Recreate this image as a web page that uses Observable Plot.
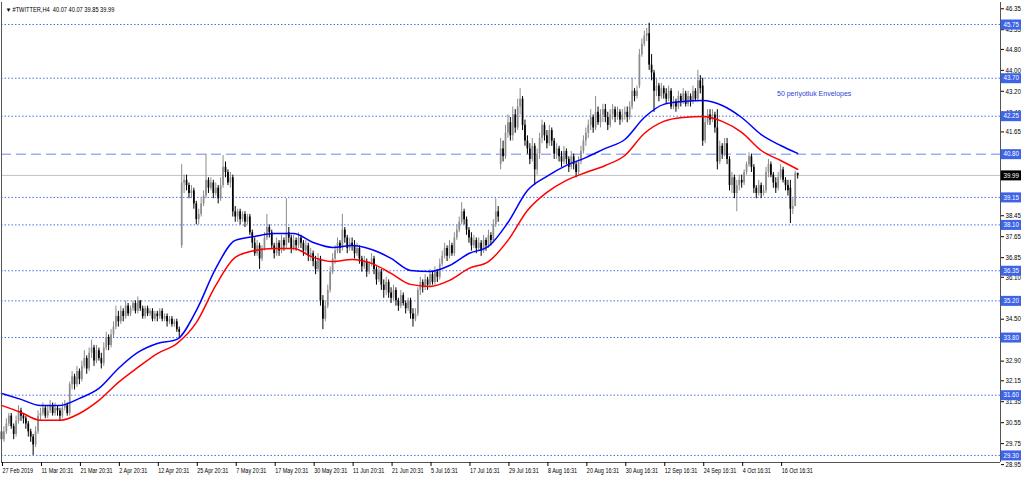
<!DOCTYPE html>
<html><head><meta charset="utf-8">
<script src="https://cdn.jsdelivr.net/npm/d3@7"></script>
<script src="https://cdn.jsdelivr.net/npm/@observablehq/plot@0.6"></script>
<style>body{margin:0;background:#fff;} svg{display:block}</style>
</head><body><div id="chart"></div>
<script>
// ---- Candles (H4 bars, index 0 = 27 Feb 2019) ----
const opens = [
30.2,29.9,30.2,30.5,30.8,30.4,30.1,30.6,31.0,30.8,30.7,30.5,30.2,30.0,29.7,30.2,
30.8,30.9,31.1,30.8,31.0,31.2,30.9,31.1,31.0,30.8,31.1,31.2,30.9,32.0,32.3,32.0,
32.5,32.2,32.7,33.0,32.6,33.2,33.4,32.9,33.3,33.0,32.8,33.4,33.8,33.5,33.9,34.2,
34.6,34.4,34.8,34.6,35.0,34.7,34.9,35.1,34.8,35.2,34.9,34.6,34.9,34.7,34.8,34.5,
34.7,34.6,34.8,34.5,34.6,34.4,34.5,34.3,34.4,34.1,37.3,39.7,39.8,39.6,39.3,39.4,
38.9,38.3,38.5,38.9,39.2,39.8,39.5,39.7,39.3,39.5,39.1,39.6,40.3,40.1,39.7,39.9,
38.6,38.4,38.6,38.3,38.5,38.2,38.4,37.8,37.4,37.0,37.3,36.8,37.2,37.6,38.0,37.8,
37.3,37.0,37.4,37.1,37.5,37.3,37.8,37.6,37.2,37.5,37.3,37.6,37.4,37.1,37.3,36.9,
37.0,36.7,36.4,36.8,35.2,34.5,35.0,35.6,36.3,36.8,37.1,37.4,37.2,37.9,37.6,37.2,
37.4,37.3,37.0,37.2,36.8,36.5,36.7,36.3,36.6,36.8,36.4,36.0,36.3,35.8,35.6,35.9,
35.5,35.3,35.6,35.2,35.0,35.4,35.1,34.9,35.2,34.7,34.5,34.7,35.6,35.9,35.7,36.0,
35.8,36.2,35.9,36.3,36.1,36.6,36.9,37.2,36.9,37.3,37.0,37.6,37.9,38.2,38.6,38.3,
37.9,37.6,37.3,37.5,37.2,37.4,37.1,37.5,37.3,37.7,37.5,38.1,38.6,40.4,41.0,40.7,
41.6,42.0,41.5,42.3,41.8,42.6,42.9,41.9,41.3,41.0,40.6,41.1,40.2,40.8,41.4,41.9,
41.5,41.2,41.7,41.3,40.8,41.0,40.7,40.5,40.9,40.6,40.3,40.7,40.4,40.1,40.5,40.9,
41.3,41.6,41.9,42.2,41.8,42.4,42.0,42.3,42.5,42.2,41.9,42.3,42.5,42.2,42.4,42.1,
42.3,42.4,42.2,42.6,43.2,43.0,43.4,44.6,45.0,45.3,45.4,44.2,43.9,43.2,43.4,43.0,
43.3,43.1,42.9,43.2,42.6,42.8,42.6,43.0,42.8,43.1,42.7,43.0,42.8,43.2,42.9,43.6,
43.4,41.3,42.0,42.3,42.1,42.3,41.8,40.5,41.1,40.8,41.2,40.6,39.6,39.9,39.3,39.6,
39.8,39.7,40.1,40.4,40.7,40.3,39.5,39.3,39.6,39.3,39.4,40.1,40.4,40.0,39.7,39.5,
39.9,40.2,39.8,39.6,39.5,38.7,38.8,40.07];
const highs = [
30.3,30.4,30.7,30.9,30.9,30.5,30.8,31.2,31.1,30.9,30.8,30.6,30.3,30.1,30.4,31.0,
31.1,31.3,31.2,31.2,31.4,31.3,31.3,31.2,31.1,31.3,31.4,31.3,32.1,32.5,32.4,32.7,
32.6,32.9,33.3,33.1,33.4,33.7,33.5,33.5,33.4,33.2,33.6,34.0,33.9,34.1,34.4,35.0,
34.8,35.0,34.9,35.2,35.1,35.0,35.2,35.2,35.35,35.2,35.0,35.0,35.0,34.9,34.9,34.8,
34.8,34.9,34.9,34.7,34.7,34.6,34.6,34.5,34.5,34.2,40.4,40.0,40.0,39.7,39.6,39.5,
39.0,38.7,39.1,39.4,40.8,39.9,39.9,39.8,39.7,39.6,39.9,40.75,40.5,40.2,40.1,40.0,
38.8,38.7,38.7,38.6,38.6,38.5,38.5,37.9,37.6,37.5,37.4,37.3,37.8,38.5,38.1,37.9,
37.4,37.6,37.5,37.7,37.6,39.1,38.0,37.7,37.7,37.6,37.8,37.7,37.5,37.5,37.4,37.2,
37.1,36.9,37.0,36.9,35.4,35.2,35.8,36.5,37.0,37.3,37.6,37.5,38.5,38.0,37.7,37.6,
37.6,37.5,37.4,37.3,36.9,36.9,36.8,36.7,37.0,36.9,36.5,36.5,36.4,36.0,36.1,36.0,
35.7,35.8,35.7,35.3,35.6,35.5,35.2,35.3,35.3,34.9,34.9,35.7,36.1,36.0,36.2,36.1,
36.4,36.3,36.5,36.4,36.8,37.1,37.4,37.3,37.5,37.4,37.8,38.1,38.4,38.95,38.7,38.4,
38.0,37.8,37.7,37.6,37.6,37.5,37.7,37.6,37.9,37.8,38.3,39.1,38.8,41.4,41.3,41.9,
42.3,42.2,42.6,42.5,42.9,43.3,43.0,42.1,41.5,41.2,41.4,41.2,41.0,41.6,42.1,42.0,
41.7,41.9,41.8,41.4,41.2,41.1,40.9,41.1,41.0,40.7,40.9,40.8,40.5,40.7,41.1,41.5,
41.8,42.1,42.5,42.3,43.0,42.6,42.5,42.7,42.7,42.4,42.5,42.7,42.6,42.6,42.5,42.5,
42.6,42.6,42.8,43.7,43.3,43.4,44.8,45.2,45.5,45.6,45.8,44.6,44.0,43.7,43.5,43.5,
43.4,43.3,43.4,43.3,43.0,42.9,43.2,43.1,43.3,43.2,43.2,43.1,43.4,43.3,44.0,43.8,
43.7,42.2,42.5,42.5,42.5,42.4,42.5,41.3,41.2,41.4,41.4,40.7,40.1,40.0,39.8,40.0,
40.0,40.2,40.5,40.85,40.8,40.4,39.6,39.8,39.7,39.6,40.3,40.6,40.5,40.1,39.9,40.1,
40.4,40.3,39.9,39.8,39.8,39.1,40.15,40.07];
const lows = [
29.7,29.8,30.1,30.4,30.3,29.9,30.0,30.5,30.6,30.5,30.3,30.0,29.8,29.3,29.6,30.1,
30.6,30.8,30.7,30.7,30.9,30.8,30.8,30.8,30.6,30.7,31.0,30.8,30.8,31.8,31.8,31.9,
32.0,32.1,32.6,32.4,32.5,33.0,32.7,32.8,32.9,32.6,32.7,33.3,33.3,33.4,33.8,34.1,
34.2,34.3,34.4,34.5,34.6,34.6,34.8,34.7,34.7,34.8,34.5,34.5,34.6,34.6,34.4,34.4,
34.4,34.5,34.4,34.4,34.2,34.3,34.2,34.2,34.0,33.8,37.2,39.3,39.4,39.1,39.1,38.7,
38.1,38.1,38.4,38.8,39.1,39.3,39.4,39.1,39.2,38.9,39.0,39.5,39.9,39.6,39.5,38.4,
38.2,38.2,38.1,38.2,38.0,38.1,37.7,37.2,36.9,36.9,36.4,36.7,37.1,37.5,37.6,37.2,
36.8,36.9,36.9,37.0,37.1,37.2,37.4,37.0,37.1,37.1,37.2,37.2,36.9,37.0,36.7,36.7,
36.5,36.2,36.3,35.0,34.1,34.4,34.9,35.5,36.2,36.6,37.0,37.0,37.1,37.4,37.0,37.1,
37.1,36.8,36.9,36.6,36.3,36.4,36.1,36.2,36.5,36.2,35.8,35.9,35.6,35.3,35.4,35.3,
35.1,35.2,35.0,34.8,34.9,35.0,34.7,34.8,34.5,34.2,34.4,34.6,35.4,35.5,35.6,35.6,
35.7,35.8,35.8,35.9,36.0,36.5,36.8,36.7,36.8,36.9,36.9,37.5,37.8,38.1,38.1,37.7,
37.4,37.1,37.2,37.0,37.1,36.9,37.0,37.1,37.2,37.3,37.4,38.0,38.2,40.2,40.5,40.6,
41.4,41.3,41.3,41.6,41.7,42.3,41.7,41.1,40.8,40.4,40.5,39.6,40.0,40.6,41.2,41.3,
41.0,41.1,41.1,40.6,40.6,40.5,40.3,40.4,40.4,40.1,40.2,40.2,39.9,40.0,40.4,40.8,
41.1,41.4,41.7,41.6,41.7,41.9,41.8,42.0,42.0,41.7,41.8,42.1,42.0,42.1,41.9,42.0,
42.1,42.0,42.1,42.5,42.8,42.9,43.3,44.5,44.9,45.1,44.0,43.6,42.4,43.0,42.8,42.9,
42.9,42.7,42.8,42.5,42.5,42.4,42.5,42.6,42.7,42.6,42.6,42.6,42.7,42.8,42.8,43.1,
41.1,41.2,41.9,41.9,42.0,41.6,40.2,40.4,40.6,40.7,40.4,39.4,39.3,39.1,38.6,39.4,
39.5,39.6,40.0,40.3,40.1,39.3,39.1,39.2,39.1,39.2,39.3,39.9,39.9,39.5,39.3,39.4,
39.8,39.7,39.4,39.2,38.15,38.5,38.8,39.85];
const closes = [
29.9,30.2,30.5,30.8,30.4,30.1,30.6,31.0,30.8,30.7,30.5,30.2,30.0,29.7,30.2,30.8,
30.9,31.1,30.8,31.0,31.2,30.9,31.1,31.0,30.8,31.1,31.2,30.9,32.0,32.3,32.0,32.5,
32.2,32.7,33.0,32.6,33.2,33.4,32.9,33.3,33.0,32.8,33.4,33.8,33.5,33.9,34.2,34.6,
34.4,34.8,34.6,35.0,34.7,34.9,35.1,34.8,35.2,34.9,34.6,34.9,34.7,34.8,34.5,34.7,
34.6,34.8,34.5,34.6,34.4,34.5,34.3,34.4,34.1,34.0,39.7,39.8,39.6,39.3,39.4,38.9,
38.3,38.5,38.9,39.2,39.8,39.5,39.7,39.3,39.5,39.1,39.6,40.3,40.1,39.7,39.9,38.6,
38.4,38.6,38.3,38.5,38.2,38.4,37.8,37.4,37.0,37.3,36.8,37.2,37.6,38.0,37.8,37.3,
37.0,37.4,37.1,37.5,37.3,37.8,37.6,37.2,37.5,37.3,37.6,37.4,37.1,37.3,36.9,37.0,
36.7,36.4,36.8,35.2,34.5,35.0,35.6,36.3,36.8,37.1,37.4,37.2,37.9,37.6,37.2,37.4,
37.3,37.0,37.2,36.8,36.5,36.7,36.3,36.6,36.8,36.4,36.0,36.3,35.8,35.6,35.9,35.5,
35.3,35.6,35.2,35.0,35.4,35.1,34.9,35.2,34.7,34.5,34.7,35.6,35.9,35.7,36.0,35.8,
36.2,35.9,36.3,36.1,36.6,36.9,37.2,36.9,37.3,37.0,37.6,37.9,38.2,38.6,38.3,37.9,
37.6,37.3,37.5,37.2,37.4,37.1,37.5,37.3,37.7,37.5,38.1,38.6,38.4,41.0,40.7,41.6,
42.0,41.5,42.3,41.8,42.6,42.9,41.9,41.3,41.0,40.6,41.1,40.2,40.8,41.4,41.9,41.5,
41.2,41.7,41.3,40.8,41.0,40.7,40.5,40.9,40.6,40.3,40.7,40.4,40.1,40.5,40.9,41.3,
41.6,41.9,42.2,41.8,42.4,42.0,42.3,42.5,42.2,41.9,42.3,42.5,42.2,42.4,42.1,42.3,
42.4,42.2,42.6,43.2,43.0,43.2,44.6,45.0,45.3,45.4,44.2,43.9,43.2,43.4,43.0,43.3,
43.1,42.9,43.2,42.6,42.8,42.6,43.0,42.8,43.1,42.7,43.0,42.8,43.2,42.9,43.6,43.3,
41.3,42.0,42.3,42.1,42.3,41.8,40.5,41.1,40.8,41.2,40.6,39.6,39.9,39.3,39.6,39.8,
39.7,40.1,40.4,40.7,40.3,39.5,39.3,39.6,39.3,39.4,40.1,40.4,40.0,39.7,39.5,39.9,
40.2,39.8,39.6,39.4,38.7,38.8,40.07,39.99];

// ---- Envelopes (50 period), sampled by bar index ----
const envIndex = [0,8,16,24,32,40,48,56,64,72,80,88,96,104,112,120,128,136,144,152,160,168,176,184,192,200,208,216,224,232,240,248,256,264,272,280,288,296,304,312,320,327];
const envUpper = [31.67,31.44,31.21,31.21,31.48,31.86,32.62,33.23,33.57,33.73,34.83,36.44,37.51,37.66,37.77,37.77,37.43,37.24,37.31,37.16,36.82,36.36,36.32,36.55,37.01,37.28,38.19,39.41,39.95,40.37,40.67,41.02,41.36,42.20,42.70,42.81,42.85,42.66,42.20,41.55,41.13,40.83];
const envLower = [31.21,30.94,30.64,30.64,30.90,31.40,32.09,32.66,33.19,33.57,34.37,35.79,36.86,37.12,37.20,37.20,36.86,36.70,36.78,36.63,36.25,35.83,35.75,35.98,36.44,36.70,37.51,38.65,39.34,39.80,40.10,40.37,40.75,41.59,42.05,42.20,42.24,42.05,41.63,40.94,40.56,40.22];

// ---- Time axis labels (every 16 bars) ----
const timeTickIndex = [0,16,32,48,64,80,96,112,128,144,160,176,192,208,224,240,256,272,288,304,320];
const timeTickLabels = ["27 Feb 2019","11 Mar 20:31","21 Mar 20:31","2 Apr 20:31","12 Apr 20:31","25 Apr 20:31","7 May 20:31","17 May 20:31","30 May 20:31","11 Jun 20:31","21 Jun 20:31","5 Jul 16:31","17 Jul 16:31","29 Jul 16:31","8 Aug 16:31","20 Aug 16:31","30 Aug 16:31","12 Sep 16:31","24 Sep 16:31","4 Oct 16:31","16 Oct 16:31"];

// ---- Price axis ----
const priceTicks = [28.95,29.75,30.55,31.35,32.15,32.90,33.70,34.50,36.10,36.85,37.65,38.45,41.65,42.40,43.20,44.00,44.80,45.55,46.35];
const dottedLevels = [45.75,43.70,42.25,39.15,38.10,36.35,35.20,33.80,31.60,29.30];
const dashedLevels = [40.80];
const labelLevels = [45.75,43.70,42.25,40.80,39.15,38.10,36.35,35.20,33.80,31.60,29.30];
const lastPrice = [39.99];

const titleText = ["#TWITTER,H4  40.07 40.07 39.85 39.99"];
const noteText = ["50 periyotluk Envelopes"];
const noteIndex = [318.5];
const notePrice = [43.12];

// ---- build ----
const bars = closes.map((c, i) => ({i, o: opens[i], h: highs[i], l: lows[i], c}));
const upBars = bars.filter(d => d.c >= d.o);
const downBars = bars.filter(d => d.c < d.o);
const env = envIndex.map((i, k) => ({i, u: envUpper[k], l: envLower[k]}));

const xMax = 410.3, yMin = 29.03, yMaxV = 46.59;
const pxPerBar = 999 / xMax;
const boxEnd = xMax + 21 / pxPerBar;
const levelBlue = "#4a6fe8";
const boxBlue = "#3d63e6";
const FONT = "'Liberation Sans', Arial, sans-serif";

const chart = Plot.plot({
  width: 1024, height: 479,
  marginLeft: 1, marginRight: 24, marginTop: 2, marginBottom: 17,
  x: {domain: [0, xMax]},
  y: {domain: [yMin, yMaxV]},
  style: {fontFamily: FONT, fontSize: "7px", background: "#fff", color: "#000"},
  marks: [
    Plot.ruleY(dottedLevels, {y: d => d, x1: 0, x2: xMax, stroke: levelBlue, strokeWidth: 1, strokeDasharray: "1.5,2"}),
    Plot.ruleY(dashedLevels, {y: d => d, x1: 0, x2: xMax, stroke: "#6a88ee", strokeWidth: 1, strokeDasharray: "10,5"}),
    Plot.ruleY(lastPrice, {y: d => d, x1: 0, x2: xMax, stroke: "#c0c0c0", strokeWidth: 1}),
    Plot.ruleX(upBars, {x: "i", y1: "l", y2: "h", stroke: "#8c8c8c", strokeWidth: 1}),
    Plot.ruleX(upBars, {x: "i", y1: "o", y2: "c", stroke: "#8c8c8c", strokeWidth: 1.7}),
    Plot.ruleX(downBars, {x: "i", y1: "l", y2: "h", stroke: "#000", strokeWidth: 1}),
    Plot.ruleX(downBars, {x: "i", y1: "o", y2: "c", stroke: "#000", strokeWidth: 1.7}),
    Plot.line(env, {x: "i", y: "u", stroke: "#0000ff", strokeWidth: 1.5, curve: "monotone-x"}),
    Plot.line(env, {x: "i", y: "l", stroke: "#ff0000", strokeWidth: 1.5, curve: "monotone-x"}),
    Plot.ruleX([0, xMax], {stroke: "#555", strokeWidth: 1}),
    Plot.ruleY([yMin], {stroke: "#555", strokeWidth: 1}),
    Plot.axisY({anchor: "right", ticks: priceTicks, tickFormat: d => d.toFixed(2), tickSize: 3, tickPadding: 2, fontSize: 7, label: null}),
    Plot.axisX({ticks: timeTickIndex, tickFormat: d => timeTickLabels[timeTickIndex.indexOf(d)], tickSize: 4, tickPadding: 2, textAnchor: "start", dx: 1, fontSize: 7, label: null}),
    Plot.ruleY(labelLevels, {y: d => d, x1: xMax + 0.3, x2: boxEnd, stroke: boxBlue, strokeWidth: 10}),
    Plot.text(labelLevels, {x: xMax, y: d => d, text: d => d.toFixed(2), textAnchor: "start", dx: 3, fill: "#fff", fontSize: 7}),
    Plot.ruleY(lastPrice, {y: d => d, x1: xMax + 0.3, x2: boxEnd, stroke: "#000", strokeWidth: 10}),
    Plot.text(lastPrice, {x: xMax, y: d => d, text: d => d.toFixed(2), textAnchor: "start", dx: 3, fill: "#fff", fontSize: 7}),
    Plot.text(["▼"], {frameAnchor: "top-left", dx: 4, dy: 5, fontSize: 6, fill: "#000"}),
    Plot.text(titleText, {frameAnchor: "top-left", dx: 11, dy: 5, textAnchor: "start", fontSize: 7, fill: "#000"}),
    Plot.text(noteText, {x: noteIndex, y: notePrice, textAnchor: "start", fill: "#2f3fd6", fontSize: 7})
  ]
});
document.getElementById("chart").appendChild(chart);

// condense text widths to match the narrow terminal font
function condense(selector, factor) {
  d3.select(chart).selectAll(selector).each(function () {
    const w = this.getComputedTextLength();
    if (w > 0) {
      this.setAttribute("textLength", (w * factor).toFixed(2));
      this.setAttribute("lengthAdjust", "spacingAndGlyphs");
    }
  });
}
condense('g[aria-label="x-axis tick label"] text', 0.78);
condense('g[aria-label="y-axis tick label"] text', 0.88);
const textGroups = d3.select(chart).selectAll('g[aria-label="text"]').nodes();
// text marks order: level labels, last price, triangle, title, note
d3.selectAll(textGroups.slice(0, 2)).selectAll("text").each(function () {
  const w = this.getComputedTextLength();
  this.setAttribute("textLength", (w * 0.88).toFixed(2));
  this.setAttribute("lengthAdjust", "spacingAndGlyphs");
});
d3.select(textGroups[3]).selectAll("text").each(function () {
  const w = this.getComputedTextLength();
  this.setAttribute("textLength", (w * 0.81).toFixed(2));
  this.setAttribute("lengthAdjust", "spacingAndGlyphs");
});
</script>
</body></html>
